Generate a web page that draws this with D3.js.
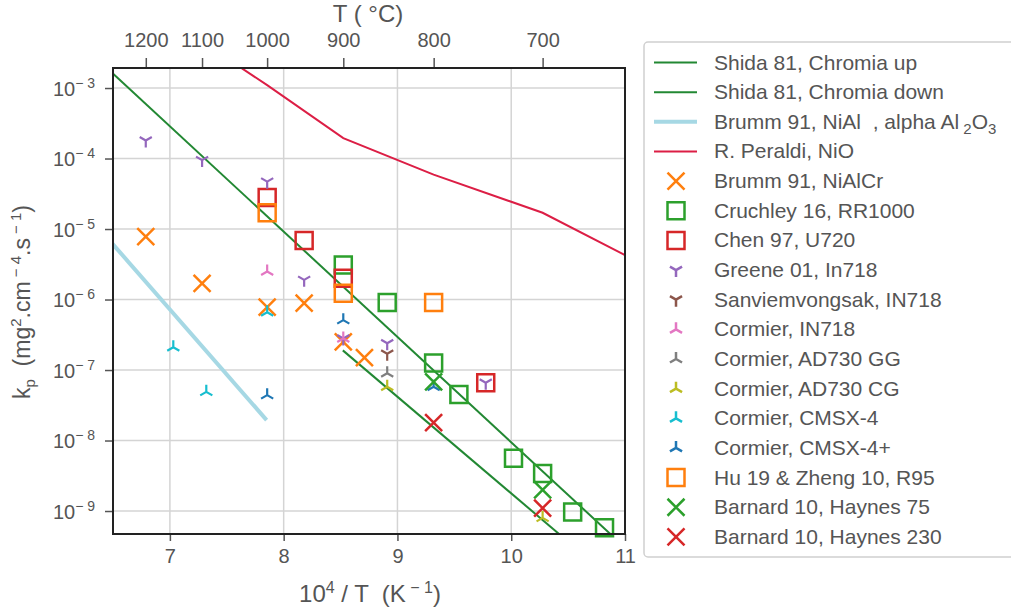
<!DOCTYPE html>
<html>
<head>
<meta charset="utf-8">
<style>
  body { margin: 0; background: #fff; }
  svg { font-family: "Liberation Sans", Arial, sans-serif; }
  .tick text { fill: #555; }
  .lbl { fill: #555; white-space: pre; }
</style>
<title>kp vs 1/T</title>
</head>
<body>
<svg id="graph" width="1011" height="611"></svg>
<script src="https://cdn.jsdelivr.net/npm/d3@7"></script>
<script>
// x = 10^4 / T(K), y = kp (mg2.cm-4.s-1)
var xTicks = [7, 8, 9, 10, 11];
var yTicks = [-3, -4, -5, -6, -7, -8, -9];
var tempTicks = [1200, 1100, 1000, 900, 800, 700];

var shidaUp = [[6.45, 1.9e-3], [10.95, 3.6e-10]];
var shidaDown = [[8.52, 1.9e-7], [10.45, 4.3e-10]];
var brummNiAl = [[6.45, 7.5e-6], [7.85, 1.95e-8]];
var peraldiNiO = [[7.283, 4.5e-3], [7.855, 1.1e-3], [8.524, 1.95e-4], [9.318, 5.9e-5], [10.276, 1.7e-5], [11.453, 1.8e-6]];

var brummNiAlCr = [[6.788, 7.8e-6], [7.283, 1.7e-6], [7.855, 7.8e-7], [8.18, 8.9e-7], [8.524, 2.5e-7], [8.71, 1.5e-7]];
var cruchley = [[8.524, 3.1e-6], [8.91, 9.1e-7], [9.318, 1.26e-7], [9.54, 4.5e-8], [10.02, 5.6e-9], [10.276, 3.4e-9], [10.54, 9.7e-10], [10.82, 5.8e-10]];
var chen = [[7.855, 2.8e-5], [8.18, 6.9e-6], [8.524, 2.0e-6], [9.776, 6.6e-8]];
var greene = [[6.788, 1.8e-4], [7.283, 9.5e-5], [7.855, 4.7e-5], [8.18, 1.9e-6], [8.524, 2.8e-7], [8.91, 2.4e-7], [9.776, 6.6e-8]];
var sanviem = [[8.91, 1.7e-7]];
var cormierIN718 = [[7.855, 2.5e-6], [8.524, 2.8e-7]];
var cormierGG = [[8.91, 9e-8]];
var cormierCG = [[8.91, 5.8e-8], [10.276, 8e-10]];
var cormierCMSX4 = [[7.03, 2.1e-7], [7.32, 4.9e-8], [7.855, 6.6e-7]];
var cormierCMSX4p = [[7.855, 4.4e-8], [8.524, 5.1e-7], [9.318, 5.8e-8]];
var huZheng = [[7.855, 1.7e-5], [8.524, 1.23e-6], [9.318, 9.1e-7]];
var barnard75 = [[9.318, 6.8e-8], [10.276, 2.0e-9]];
var barnard230 = [[9.318, 1.8e-8], [10.276, 1.1e-9]];

var lineSeries = [
    { name: 'Shida 81, Chromia up', data: shidaUp, color: '#228833', width: 2 },
    { name: 'Shida 81, Chromia down', data: shidaDown, color: '#228833', width: 2 },
    { name: 'Brumm 91, NiAl  , alpha Al', data: brummNiAl, color: '#a6d8e4', width: 4 },
    { name: 'R. Peraldi, NiO', data: peraldiNiO, color: '#dc1e45', width: 2 }
];
var markerSeries = [
    { name: 'Brumm 91, NiAlCr', data: brummNiAlCr, color: '#ff7f0e', shape: 'x' },
    { name: 'Cruchley 16, RR1000', data: cruchley, color: '#2ca02c', shape: 'sq' },
    { name: 'Chen 97, U720', data: chen, color: '#d62728', shape: 'sq' },
    { name: 'Greene 01, In718', data: greene, color: '#9467bd', shape: 'tdown' },
    { name: 'Sanviemvongsak, IN718', data: sanviem, color: '#8c564b', shape: 'tdown' },
    { name: 'Cormier, IN718', data: cormierIN718, color: '#e377c2', shape: 'tup' },
    { name: 'Cormier, AD730 GG', data: cormierGG, color: '#7f7f7f', shape: 'tup' },
    { name: 'Cormier, AD730 CG', data: cormierCG, color: '#bcbd22', shape: 'tup' },
    { name: 'Cormier, CMSX-4', data: cormierCMSX4, color: '#17becf', shape: 'tup' },
    { name: 'Cormier, CMSX-4+', data: cormierCMSX4p, color: '#1f77b4', shape: 'tup' },
    { name: 'Hu 19 & Zheng 10, R95', data: huZheng, color: '#ff7f0e', shape: 'sq' },
    { name: 'Barnard 10, Haynes 75', data: barnard75, color: '#2ca02c', shape: 'x' },
    { name: 'Barnard 10, Haynes 230', data: barnard230, color: '#d62728', shape: 'x' }
];

var margin = { top: 68, left: 113 },
    width = 512, height = 466;

var svg = d3.select('#graph');
var g = svg.append('g').attr('transform', translation(margin.left, margin.top));

var x = d3.scaleLinear().domain([6.5, 11]).range([0, width]);
var y = d3.scaleLog().domain([Math.pow(10, -9.326), Math.pow(10, -2.716)]).range([height, 0]);

// grid
g.selectAll('.vgrid').data(xTicks.slice(0, 4)).enter().append('line')
    .attr('x1', d => x(d)).attr('x2', d => x(d))
    .attr('y1', 0).attr('y2', height)
    .attr('stroke', '#d4d4d4').attr('stroke-width', 1.5);
g.selectAll('.hgrid').data(yTicks).enter().append('line')
    .attr('x1', 0).attr('x2', width)
    .attr('y1', d => y(Math.pow(10, d))).attr('y2', d => y(Math.pow(10, d)))
    .attr('stroke', '#d4d4d4').attr('stroke-width', 1.5);

// axes
var xAxis = d3.axisBottom(x).tickValues(xTicks).tickSize(7).tickPadding(8).tickFormat(d3.format('d'));
var gx = g.append('g').attr('transform', translation(0, height)).call(xAxis);

var yAxis = d3.axisLeft(y).tickValues(yTicks.map(d => Math.pow(10, d))).tickSize(8).tickPadding(10).tickFormat('');
var gy = g.append('g').call(yAxis);

var tAxis = d3.axisTop(x).tickValues(tempTicks.map(c => 1e4 / (c + 273.15))).tickSize(10).tickPadding(11)
    .tickFormat((d, i) => tempTicks[i]);
var gt = g.append('g').call(tAxis);

[gx, gy, gt].forEach(function (a) {
    a.select('.domain').remove();
    a.selectAll('.tick line').attr('stroke', '#555').attr('stroke-width', 1.5);
    a.selectAll('.tick text').attr('font-size', 20).attr('fill', '#555');
});

gy.selectAll('.tick').append('text')
    .attr('x', -18).attr('dy', '0.35em').attr('text-anchor', 'end')
    .attr('font-size', 20).attr('fill', '#555').style('white-space', 'pre')
    .each(function (d) {
        var t = d3.select(this);
        var e = Math.round(Math.log10(d));
        t.append('tspan').text('10');
        t.append('tspan').attr('dy', -8).attr('font-size', 14).text('\u2212 ' + (-e));
    });

// clip
svg.append('defs').append('clipPath').attr('id', 'clip')
    .append('rect').attr('width', width).attr('height', height);
var plot = g.append('g').attr('clip-path', 'url(#clip)');

var line = d3.line().x(d => x(d[0])).y(d => y(d[1]));
plot.selectAll('.ln').data(lineSeries).enter().append('path')
    .attr('d', d => line(d.data))
    .attr('fill', 'none')
    .attr('stroke', d => d.color)
    .attr('stroke-width', d => d.width);

function markerPath(shape) {
    if (shape === 'x') return 'M-8.5,-8.5L8.5,8.5M-8.5,8.5L8.5,-8.5';
    if (shape === 'sq') return 'M-8.5,-8.5H8.5V8.5H-8.5Z';
    var r = 7, c = r * 0.866, s = r * 0.5;
    if (shape === 'tdown') return 'M0,0V' + r + 'M0,0L' + (-c) + ',' + (-s) + 'M0,0L' + c + ',' + (-s);
    return 'M0,0V' + (-r) + 'M0,0L' + (-c) + ',' + s + 'M0,0L' + c + ',' + s;
}

markerSeries.forEach(function (s) {
    g.append('g').selectAll('path').data(s.data).enter().append('path')
        .attr('transform', d => translation(x(d[0]), y(d[1])))
        .attr('d', markerPath(s.shape))
        .attr('fill', 'none')
        .attr('stroke', s.color)
        .attr('stroke-width', s.shape === 'x' || s.shape === 'sq' ? 2.5 : 2.2);
});

// frame
g.append('rect').attr('width', width).attr('height', height)
    .attr('fill', 'none').attr('stroke', '#222').attr('stroke-width', 2);

// axis labels
svg.append('text').attr('class', 'lbl').attr('x', 368).attr('y', 22)
    .attr('text-anchor', 'middle').attr('font-size', 24).text('T ( \u00b0C)');

var xl = svg.append('text').attr('class', 'lbl').attr('x', 370).attr('y', 602)
    .attr('text-anchor', 'middle').attr('font-size', 24);
xl.append('tspan').text('10');
xl.append('tspan').attr('dy', -9).attr('font-size', 16).text('4');
xl.append('tspan').attr('dy', 9).text(' / T  (K');
xl.append('tspan').attr('dy', -9).attr('font-size', 16).text(' \u2212 1');
xl.append('tspan').attr('dy', 9).text(')');

var yl = svg.append('text').attr('class', 'lbl')
    .attr('transform', translation(30, 302) + 'rotate(-90)')
    .attr('text-anchor', 'middle').attr('font-size', 23);
yl.append('tspan').text('k');
yl.append('tspan').attr('dy', 5).attr('font-size', 15).text('p');
yl.append('tspan').attr('dy', -5).text('  (mg');
yl.append('tspan').attr('dy', -9).attr('font-size', 15).text('2');
yl.append('tspan').attr('dy', 9).text('.cm');
yl.append('tspan').attr('dy', -9).attr('font-size', 15).text(' \u2212 4');
yl.append('tspan').attr('dy', 9).text('.s');
yl.append('tspan').attr('dy', -9).attr('font-size', 15).text(' \u2212 1');
yl.append('tspan').attr('dy', 9).text(')');

// legend
var leg = svg.append('g');
leg.append('rect').attr('x', 644).attr('y', 42).attr('width', 400).attr('height', 515)
    .attr('rx', 4).attr('fill', '#fff').attr('stroke', '#d0d0d0').attr('stroke-width', 1.5);

var rowH = 29.65, row0 = 62.5;
lineSeries.forEach(function (s, i) {
    var yy = row0 + i * rowH;
    leg.append('line').attr('x1', 654).attr('x2', 697).attr('y1', yy).attr('y2', yy)
        .attr('stroke', s.color).attr('stroke-width', s.width);
    var t = leg.append('text').attr('class', 'lbl').attr('x', 714).attr('y', yy + 7)
        .attr('font-size', 21).text(s.name);
    if (i === 2) {
        t.append('tspan').attr('dy', 5).attr('font-size', 15).text(' 2');
        t.append('tspan').attr('dy', -5).text('O');
        t.append('tspan').attr('dy', 5).attr('font-size', 15).text('3');
    }
});
markerSeries.forEach(function (s, i) {
    var yy = row0 + (i + 4) * rowH;
    leg.append('path').attr('transform', translation(676, yy))
        .attr('d', markerPath(s.shape)).attr('fill', 'none')
        .attr('stroke', s.color).attr('stroke-width', 2.5);
    leg.append('text').attr('class', 'lbl').attr('x', 714).attr('y', yy + 7)
        .attr('font-size', 21).text(s.name);
});

function translation(a, b) {
    return 'translate(' + a + ',' + b + ')';
}
</script>
</body>
</html>
